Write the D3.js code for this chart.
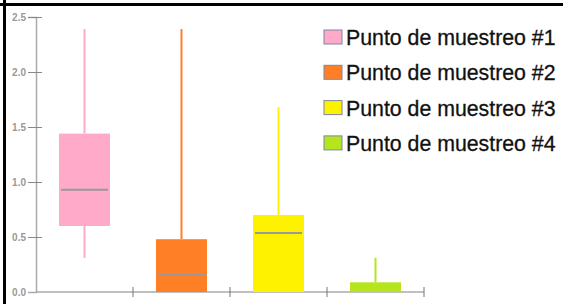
<!DOCTYPE html>
<html>
<head>
<meta charset="utf-8">
<script src="https://cdn.jsdelivr.net/npm/d3@7"></script>
<style>
  body { margin: 0; background: #fff; }
  svg { display: block; }
</style>
</head>
<body>
<svg id="chart" width="563" height="304"></svg>
<script>
// data
let groups = ['Punto de muestreo #1', 'Punto de muestreo #2', 'Punto de muestreo #3', 'Punto de muestreo #4']
let whiskerLow = [0.31, 0, 0, 0]
let q1 = [0.60, 0, 0, 0]
let median = [0.93, 0.155, 0.536, 0]
let q3 = [1.44, 0.48, 0.70, 0.088]
let whiskerHigh = [2.39, 2.39, 1.68, 0.31]
let colors = ['#ffaac9', '#ff7f27', '#fff200', '#b5e61d']
let yTicks = [0, 0.5, 1.0, 1.5, 2.0, 2.5]

let svg = d3.select('#chart')

// frame lines on top and left
svg.append('line').attr('x1', 0).attr('x2', 563).attr('y1', 4.5).attr('y2', 4.5)
    .attr('stroke', '#000').attr('stroke-width', 3)
svg.append('line').attr('x1', 4.5).attr('x2', 4.5).attr('y1', 0).attr('y2', 304)
    .attr('stroke', '#000').attr('stroke-width', 3)

let x = d3.scaleBand().domain(groups).range([36, 424])
let y = d3.scaleLinear().domain([0, 2.5]).range([292, 17])

let axisColor = '#aaa'

// y axis
let yAxis = svg.append('g').attr('transform', 'translate(36,0)')
    .call(d3.axisLeft(y).tickValues(yTicks).tickFormat(d3.format('.1f')).tickSize(8).tickPadding(1))
yAxis.select('.domain').attr('stroke', axisColor).attr('stroke-width', 1.5)
yAxis.selectAll('.tick line').attr('stroke', '#888').attr('stroke-width', 1)
    .attr('x2', 6).attr('x1', -8)
yAxis.selectAll('.tick text').attr('fill', '#999').attr('font-size', 10)
    .attr('font-weight', 'bold').attr('font-family', 'Liberation Sans, Arial, sans-serif')
    .attr('x', -10)
yAxis.selectAll('.tick').filter(d => d === 0).select('line').remove()

// x axis
let xAxis = svg.append('g').attr('transform', 'translate(0,292)')
xAxis.append('line').attr('x1', 36).attr('x2', 424).attr('y1', 0).attr('y2', 0)
    .attr('stroke', axisColor).attr('stroke-width', 1.5)
xAxis.selectAll('.xt').data(groups)
    .enter().append('line')
    .attr('class', 'xt')
    .attr('x1', g => x(g) + x.bandwidth())
    .attr('x2', g => x(g) + x.bandwidth())
    .attr('y1', -5).attr('y2', 5)
    .attr('stroke', '#777').attr('stroke-width', 1)

let boxW = 51

let box = svg.selectAll('.box').data(groups).enter().append('g')
    .attr('class', 'box')
    .attr('transform', g => 'translate(' + (x(g) + x.bandwidth() / 2) + ',0)')

// whiskers
box.append('line')
    .attr('x1', 0).attr('x2', 0)
    .attr('y1', (g, i) => y(whiskerHigh[i]))
    .attr('y2', (g, i) => y(q3[i]))
    .attr('stroke', (g, i) => colors[i]).attr('stroke-width', 2)
box.append('line')
    .attr('x1', 0).attr('x2', 0)
    .attr('y1', (g, i) => y(q1[i]))
    .attr('y2', (g, i) => y(whiskerLow[i]))
    .attr('stroke', (g, i) => colors[i]).attr('stroke-width', 2)

box.append('rect')
    .attr('x', -boxW / 2)
    .attr('width', boxW)
    .attr('y', (g, i) => y(q3[i]))
    .attr('height', (g, i) => y(q1[i]) - y(q3[i]))
    .attr('fill', (g, i) => colors[i])

box.append('line')
    .attr('x1', -boxW / 2 + 2).attr('x2', boxW / 2 - 2)
    .attr('y1', (g, i) => y(median[i])).attr('y2', (g, i) => y(median[i]))
    .attr('stroke', (g, i) => median[i] > 0 ? '#999' : 'none').attr('stroke-width', 2)

// legend
let legend = svg.selectAll('.leg').data(groups).enter().append('g')
    .attr('class', 'leg')
    .attr('transform', (g, i) => 'translate(324,' + (30 + i * 35.3) + ')')
legend.append('rect')
    .attr('width', 18).attr('height', 14)
    .attr('fill', (g, i) => colors[i])
    .attr('stroke', '#7a86a8').attr('stroke-width', 1)
legend.append('text')
    .attr('x', 22).attr('y', 15)
    .attr('font-family', 'Liberation Sans, Arial, sans-serif')
    .attr('font-size', 21.3)
    .attr('fill', '#111')
    .attr('stroke', '#111').attr('stroke-width', 0.3)
    .text(g => g)
</script>
</body>
</html>
